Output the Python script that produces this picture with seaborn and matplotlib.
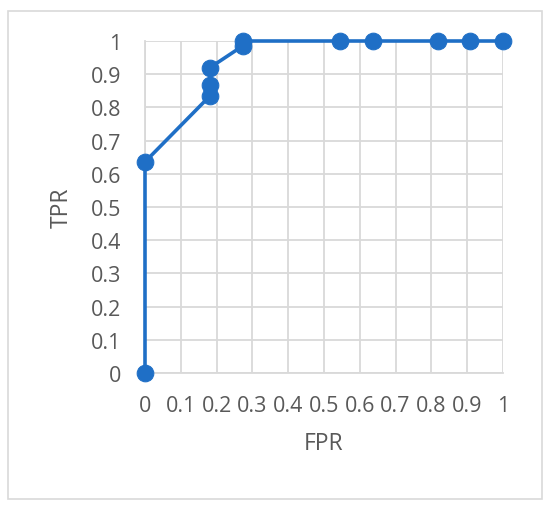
import numpy as np
import pandas as pd
import matplotlib.pyplot as plt
import seaborn as sns
from matplotlib.patches import Rectangle

# ---------------- DATA ----------------
fpr = [0, 0, 2/11, 2/11, 2/11, 3/11, 3/11, 6/11, 7/11, 9/11, 10/11, 1]
tpr = [0, 0.636, 0.835, 0.867, 0.92, 0.985, 1.0, 1.0, 1.0, 1.0, 1.0, 1.0]
ticks = [0, 0.1, 0.2, 0.3, 0.4, 0.5, 0.6, 0.7, 0.8, 0.9, 1]
tick_labels = ["0", "0.1", "0.2", "0.3", "0.4", "0.5", "0.6", "0.7", "0.8", "0.9", "1"]

# ---------------- STYLE ----------------
sns.set_style("white")
plt.rcParams["font.family"] = ["Open Sans", "DejaVu Sans"]

BLUE = "#1f6fc6"
GRID = "#d9d9d9"
TEXT = "#595959"

df = pd.DataFrame({"FPR": fpr, "TPR": tpr})

fig = plt.figure(figsize=(5.5, 5.1), dpi=100)
ax = fig.add_axes([145 / 550, 136 / 510, 358 / 550, 332 / 510])

# outer chart border
fig.patches.append(Rectangle((8 / 550, 10 / 510), 534 / 550, 488 / 510,
                             transform=fig.transFigure, fill=False,
                             edgecolor=GRID, linewidth=1.2))

sns.lineplot(data=df, x="FPR", y="TPR", sort=False, estimator=None,
             errorbar=None, ax=ax, color=BLUE,
             linewidth=2.6, marker="o", markersize=12,
             markeredgecolor=BLUE, markerfacecolor=BLUE, zorder=3,
             clip_on=False)

ax.set_xlim(0, 1)
ax.set_ylim(0, 1)
ax.set_xticks(ticks)
ax.set_yticks(ticks)
ax.set_xticklabels(tick_labels, fontsize=15.5, color=TEXT)
ax.set_yticklabels(tick_labels, fontsize=15.5, color=TEXT)
ax.tick_params(axis="x", length=0, pad=16)
ax.tick_params(axis="y", length=0, pad=17)
ax.grid(True, color=GRID, linewidth=1.3)
ax.set_axisbelow(True)

for side in ["top", "right"]:
    ax.spines[side].set_visible(False)
for side in ["left", "bottom"]:
    ax.spines[side].set_color(GRID)
    ax.spines[side].set_linewidth(1.3)

ax.set_xlabel("FPR", fontsize=16.5, color=TEXT, labelpad=11)
ax.set_ylabel("TPR", fontsize=16.5, color=TEXT, labelpad=12)

fig.savefig("out.png", dpi=100)
